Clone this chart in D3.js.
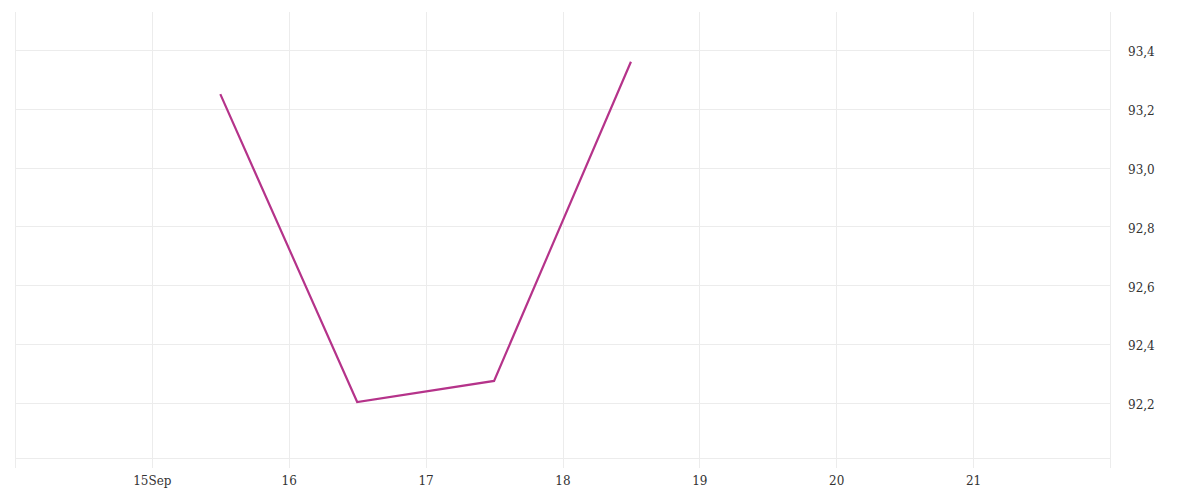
<!DOCTYPE html>
<html><head><meta charset="utf-8">
<script src="https://cdn.jsdelivr.net/npm/d3@7"></script>
<style>body{margin:0;background:#fff}svg{display:block}</style>
</head><body><svg id="c" width="1200" height="500"></svg>
<script>
const dates = ["2023-09-15T12:00","2023-09-16T12:00","2023-09-17T12:00","2023-09-18T12:00"];
const values = [93.25, 92.203, 92.275, 93.36];
const yTicks = [92.2, 92.4, 92.6, 92.8, 93.0, 93.2, 93.4];
const xTickDays = ["2023-09-15","2023-09-16","2023-09-17","2023-09-18","2023-09-19","2023-09-20","2023-09-21"];

const parse = d3.isoParse;
const svg = d3.select("#c");
const L = 15, R = 1110, T = 12, B = 458;
const x = d3.scaleTime().domain([new Date(2023,8,14), new Date(2023,8,22)]).range([L, R]);
const y = d3.scaleLinear().domain([92.0128, 93.5293]).range([B, T]);
const font = "'DejaVu Serif', serif";

const g = svg.append("g");
// horizontal grid
g.selectAll(".hg").data(yTicks).join("line")
  .attr("x1", L).attr("x2", R).attr("y1", d => Math.round(y(d))+0.5).attr("y2", d => Math.round(y(d))+0.5)
  .attr("stroke", "#ececec").attr("stroke-width", 1);
// baseline
g.append("line").attr("x1", L).attr("x2", R).attr("y1", B+0.5).attr("y2", B+0.5)
  .attr("stroke", "#ececec");
// vertical grid
const vdays = [new Date(2023,8,14)].concat(xTickDays.map(d => new Date(d+"T00:00"))).concat([new Date(2023,8,22)]);
g.selectAll(".vg").data(vdays).join("line")
  .attr("x1", d => Math.round(x(d))+0.5).attr("x2", d => Math.round(x(d))+0.5)
  .attr("y1", T).attr("y2", 468)
  .attr("stroke", "#ececec");

// y labels
const yAxis = d3.axisRight(y).tickValues(yTicks).tickSize(0).tickPadding(0)
  .tickFormat(d => d3.format(".1f")(d).replace(".", ","));
const ya = svg.append("g").attr("transform", `translate(1128,2)`).call(yAxis);
ya.select(".domain").remove();
ya.selectAll("text").attr("font-family", font).attr("font-size", 12).attr("fill", "#333");

// x labels
const xAxis = d3.axisBottom(x).tickValues(xTickDays.map(d => new Date(d+"T00:00"))).tickSize(0).tickPadding(0)
  .tickFormat((d,i) => i === 0 ? d3.timeFormat("%-d")(d) + "Sep" : d3.timeFormat("%-d")(d));
const xa = svg.append("g").attr("transform", `translate(0,476)`).call(xAxis);
xa.select(".domain").remove();
xa.selectAll("text").attr("font-family", font).attr("font-size", 12).attr("fill", "#333");

// line
const line = d3.line().x((d,i) => x(parse(dates[i]))).y(d => y(d));
svg.append("path").datum(values).attr("d", line)
  .attr("fill", "none").attr("stroke", "#b5338a").attr("stroke-width", 2.2);
</script></body></html>
